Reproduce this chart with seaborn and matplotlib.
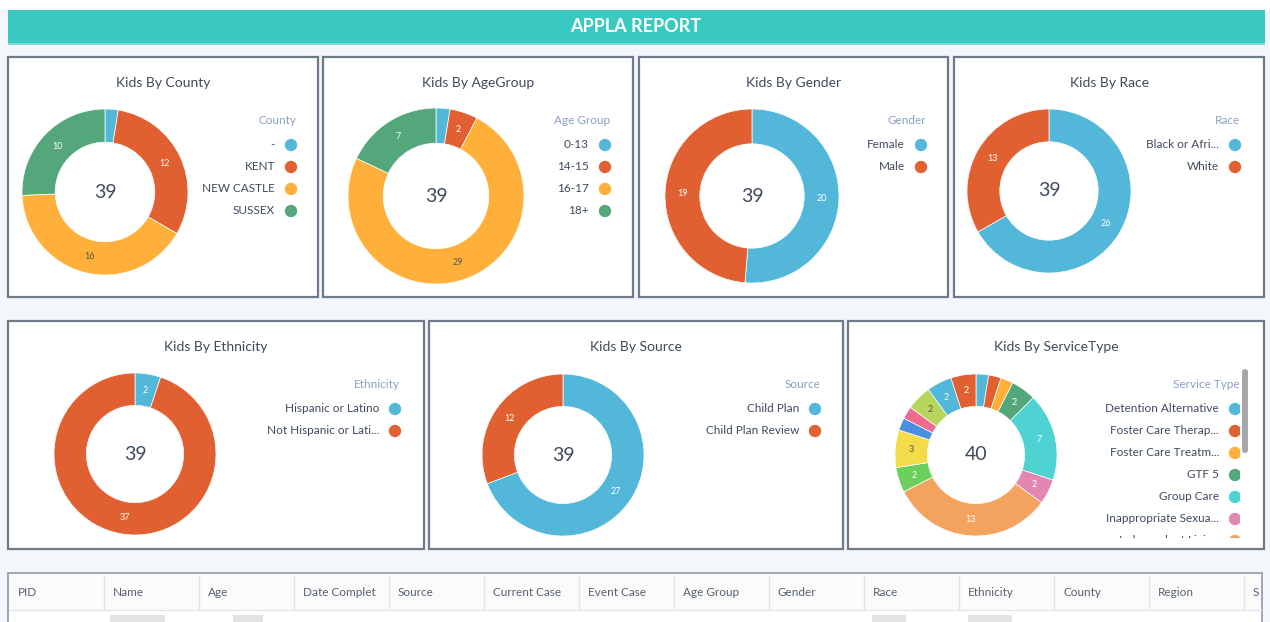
import numpy as np
import pandas as pd
import matplotlib
matplotlib.use("Agg")
import matplotlib.pyplot as plt
import seaborn as sns
from matplotlib.patches import Rectangle, FancyBboxPatch
from matplotlib.textpath import TextToPath
from matplotlib.font_manager import FontProperties

sns.set_theme(style="white")
plt.rcParams['font.family'] = ['Lato', 'DejaVu Sans']

W, H = 1270, 622

# ---- data ----
county_labels = ['-', 'KENT', 'NEW CASTLE', 'SUSSEX']
county_counts = [1, 12, 16, 10]
age_labels = ['0-13', '14-15', '16-17', '18+']
age_counts = [1, 2, 29, 7]
gender_labels = ['Female', 'Male']
gender_counts = [20, 19]
race_labels = ['Black or African American', 'White']
race_counts = [26, 13]
ethnicity_labels = ['Hispanic or Latino', 'Not Hispanic or Latino']
ethnicity_counts = [2, 37]
source_labels = ['Child Plan', 'Child Plan Review']
source_counts = [27, 12]
service_labels = ['Detention Alternative', 'Foster Care Therapeutic', 'Foster Care Treatment',
                  'GTF 5', 'Group Care', 'Inappropriate Sexual Behavior', 'Independent Living',
                  'Kinship Care', 'Maternity Care', 'Medical Foster Care', 'Psychiatric Hospital',
                  'Residential Treatment', 'Shelter Care', 'Specialized Foster Care']
service_counts = [1, 1, 1, 2, 7, 2, 13, 2, 3, 1, 1, 2, 2, 2]
table_columns = ['PID', 'Name', 'Age', 'Date Complet', 'Source', 'Current Case', 'Event Case',
                 'Age Group', 'Gender', 'Race', 'Ethnicity', 'County', 'Region', 'S']

palette = sns.color_palette(['#52B7D8', '#E16032', '#FFB03B', '#54A77B', '#4FD2D2', '#E287B2',
                             '#F4A35E', '#6BCF5B', '#F3DC4A', '#4A8FE0', '#EE6A8E', '#B5D55B'])
dark_on = {'#FFB03B', '#F3DC4A', '#B5D55B'}
TXT = '#3E4A5C'
LEG_TITLE = '#8D9FC0'
LEG_FS = 8.5

fig = plt.figure(figsize=(W / 100, H / 100), dpi=100, facecolor='#F3F6FA')
bg = fig.add_axes([0, 0, 1, 1])
bg.set_xlim(0, W)
bg.set_ylim(H, 0)
bg.axis('off')

# top white strip + header
bg.add_patch(Rectangle((0, 0), W, 9, facecolor='white', edgecolor='none'))
bg.add_patch(Rectangle((8, 10), 1257, 34, facecolor='#3AC9C1', edgecolor='none'))
bg.add_patch(Rectangle((8, 43), 1257, 1.5, facecolor='#7ADCD6', edgecolor='none'))
bg.text(636, 27, 'APPLA REPORT', ha='center', va='center', color='white',
        fontsize=13, fontweight='bold')

_t2p = TextToPath()
_prop = FontProperties(family=['Lato', 'DejaVu Sans'], size=LEG_FS)


def text_px(s):
    w, _, _ = _t2p.get_text_width_height_descent(s, _prop, ismath=False)
    return w * 100 / 72


def short(s, max_px):
    # cut the label like the dashboard does when it does not fit
    if text_px(s) <= max_px:
        return s
    while len(s) > 1 and text_px(s + '...') > max_px:
        s = s[:-1]
    return s + '...'


def panel(x0, y0, x1, y1, title):
    bg.add_patch(Rectangle((x0, y0), x1 - x0, y1 - y0, facecolor='white',
                           edgecolor='#6E7A88', lw=1.6))
    bg.text((x0 + x1) / 2, y0 + 26, title, ha='center', va='center', color=TXT, fontsize=10)


def donut(cx, cy, r, counts):
    ax = fig.add_axes([(cx - r) / W, 1 - (cy + r) / H, 2 * r / W, 2 * r / H])
    cols = [palette[i % len(palette)] for i in range(len(counts))]
    wedges, _ = ax.pie(counts, colors=cols, startangle=90, counterclock=False, radius=1,
                       wedgeprops=dict(width=0.4, edgecolor='white', linewidth=0.5))
    ax.set_xlim(-1, 1)
    ax.set_ylim(-1, 1)
    ax.axis('off')
    for w, v, c in zip(wedges, counts, cols):
        if v < 2:
            continue
        a = np.deg2rad((w.theta1 + w.theta2) / 2)
        hexc = matplotlib.colors.to_hex(c).upper()
        ax.text(0.8 * np.cos(a), 0.8 * np.sin(a), str(v), ha='center', va='center',
                fontsize=6.5, color='#5C5340' if hexc in dark_on else 'white')
    ax.text(0, 0, str(sum(counts)), ha='center', va='center', fontsize=14, color=TXT)


def legend(title, labels, x_dot, y_title, y0, max_px, y_stop=None, clip=None):
    arts = [bg.text(x_dot + 5, y_title, title, ha='right', va='center', color=LEG_TITLE, fontsize=LEG_FS)]
    ys = [y0 + 22 * i for i in range(len(labels))]
    cols = [palette[i % len(palette)] for i in range(len(labels))]
    if y_stop is not None:
        n = sum(1 for y in ys if y - 8 < y_stop)
        labels, ys, cols = labels[:n], ys[:n], cols[:n]
    for lab, y in zip(labels, ys):
        arts.append(bg.text(x_dot - 16, y, short(lab, max_px), ha='right', va='center',
                            color=TXT, fontsize=LEG_FS))
    arts.append(bg.scatter([x_dot] * len(labels), ys, s=62, color=cols, zorder=3))
    if clip is not None:
        for a in arts:
            a.set_clip_on(True)
            a.set_clip_path(clip)


# row 1
panel(8, 57, 318, 297, 'Kids By County')
donut(105, 192, 83, county_counts)
legend('County', county_labels, 291, 120, 145, 76)

panel(323, 57, 633, 297, 'Kids By AgeGroup')
donut(436, 196, 88, age_counts)
legend('Age Group', age_labels, 605, 120, 145, 76)

panel(639, 57, 948, 297, 'Kids By Gender')
donut(752, 196, 87, gender_counts)
legend('Gender', gender_labels, 921, 120, 145, 76)

panel(954, 57, 1264, 297, 'Kids By Race')
donut(1049, 191, 82, race_counts)
legend('Race', race_labels, 1235, 120, 145, 76)

# row 2
panel(8, 321, 424, 549, 'Kids By Ethnicity')
donut(135, 454, 81, ethnicity_counts)
legend('Ethnicity', ethnicity_labels, 395, 384, 409, 112)

panel(429, 321, 843, 549, 'Kids By Source')
donut(563, 455, 81, source_counts)
legend('Source', source_labels, 815, 384, 409, 112)

panel(848, 321, 1264, 549, 'Kids By ServiceType')
donut(976, 455, 81, service_counts)
clip = Rectangle((850, 360), 390, 178, transform=bg.transData)
detention_px = text_px(service_labels[0])
legend('Service Type', service_labels, 1235, 385, 409, detention_px + 1, y_stop=538, clip=clip)
bg.add_patch(FancyBboxPatch((1242, 369), 6, 84, boxstyle='round,pad=0,rounding_size=3',
                            facecolor='#A7A7A7', edgecolor='none', zorder=4))

# table header
bg.add_patch(Rectangle((8, 573), 1254, 60, facecolor='white', edgecolor='#8E98A4', lw=1.2))
bg.add_patch(Rectangle((9, 574), 1252, 36, facecolor='#FBFBFB', edgecolor='none'))
bg.plot([9, 1261], [610, 610], color='#E2E6EB', lw=1)
tclip = Rectangle((8, 573), 1253, 60, transform=bg.transData)
for i, col in enumerate(table_columns):
    x = 18 + 95 * i
    t = bg.text(x, 593, col, ha='left', va='center', color='#56616F', fontsize=8.5)
    t.set_clip_on(True)
    t.set_clip_path(tclip)
    if i > 0:
        bg.plot([x - 9, x - 9], [575, 609], color='#E2E6EB', lw=1)
for x0, w in [(110, 55), (233, 30), (872, 34), (968, 44)]:
    bg.add_patch(Rectangle((x0, 615), w, 7, facecolor='#E3E3E3', edgecolor='none'))

fig.savefig('out.png', dpi=100, facecolor=fig.get_facecolor())
